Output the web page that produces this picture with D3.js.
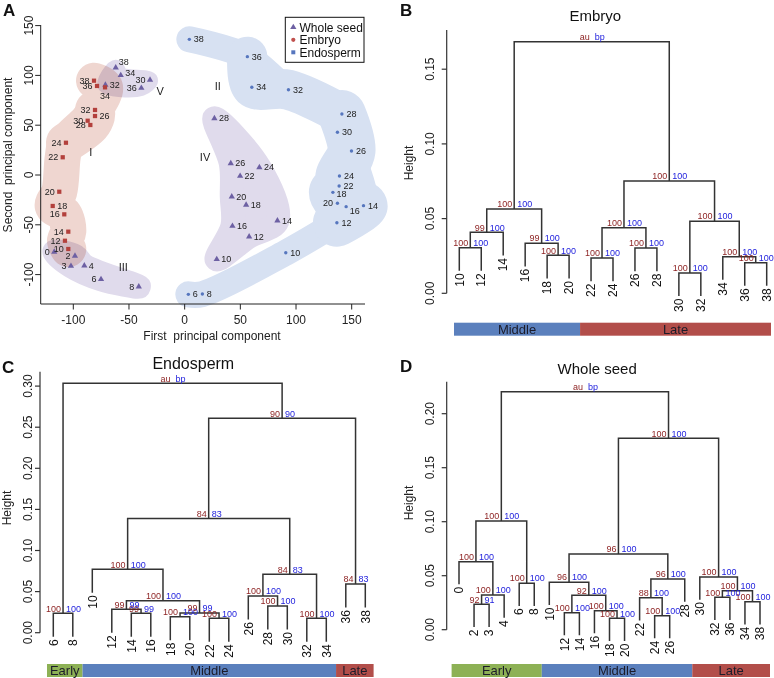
<!DOCTYPE html>
<html>
<head>
<meta charset="utf-8">
<script src="https://cdn.jsdelivr.net/npm/d3@7/dist/d3.min.js"></script>
<style>
html,body{margin:0;padding:0;background:#fff;}
svg{display:block;}
text{font-family:Arial,"Liberation Sans",Helvetica,sans-serif;}
</style>
</head>
<body>
<svg id="fig" width="774" height="678"></svg>
<script>
// ================= DATA =================
// ---- Panel A: PCA scores ----
const embryoLabels=["10","12","14","16","18","20","22","24","26","28","30","32","34","36","38"];
const embryoPC1=[-104.5,-107.5,-104.5,-108.1,-118.5,-112.6,-109.5,-106.6,-80.5,-84.7,-87.1,-80.5,-71.5,-78.7,-81.4];
const embryoPC2=[-74.3,-66,-56.9,-39.5,-31.1,-16.8,17.8,32.4,59.2,50.2,54.5,65.3,88,89.4,94.7];

const wholeLabels=["0","2","3","4","6","8","10","12","14","16","18","20","22","24","26","28","30","32","34","36","38"];
const wholePC1=[-117.1,-98.5,-102.1,-90.1,-75.1,-41.2,28.8,57.9,83.3,42.9,55.2,42.3,49.8,67.1,41.4,26.7,-31.1,-71.2,-57.4,-38.9,-61.9];
const wholePC2=[-77.3,-81.3,-91.4,-91.1,-104.7,-112.1,-84.6,-61.9,-45.9,-51.2,-30.1,-21.8,-1,7.7,11.7,56.9,95.4,90.4,100.1,87.3,107.7];

const endoLabels=["6","8","10","12","14","16","18","20","22","24","26","28","30","32","34","36","38"];
const endoPC1=[3.3,15.9,90.8,136.7,160.6,145,133.1,137.2,138.7,139,149.8,141.2,137.2,93.2,60.3,56.3,4.2];
const endoPC2=[-119.8,-119.5,-78,-47.9,-30.8,-31.8,-17.4,-28.4,-11,-1,24.1,61.2,42.9,85.6,88.1,118.8,136.2];

const pcaTicks=[-100,-50,0,50,100,150];
const clusterNames=["I","II","III","IV","V"];
const clusterPC1=[-84.4,29.7,-55.1,18.3,-22.1];
const clusterPC2=[23.4,89.4,-92.1,17.6,84.6];

// ---- Panel B: Embryo dendrogram ----  [left, right, height, au, bp]
const embryoLeaves=["10","12","14","16","18","20","22","24","26","28","30","32","34","36","38"];
const embryoMerges=[
  ["30","32",0.0136,100,100],
  ["36","38",0.0205,100,100],
  ["22","24",0.0236,100,100],
  ["34",1,0.0245,100,100],
  ["18","20",0.0254,100,100],
  ["26","28",0.0303,100,100],
  ["10","12",0.0305,100,100],
  ["16",4,0.0335,99,100],
  [6,"14",0.0408,99,100],
  [2,5,0.0439,100,100],
  [0,3,0.0482,100,100],
  [8,7,0.0564,100,100],
  [9,10,0.0752,100,100],
  [11,12,0.1684,"au","bp"]
];
const embryoStages=["Middle","Late"];
const embryoStageCounts=[6,9];
const embryoTicks=[0,0.05,0.10,0.15];

// ---- Panel C: Endosperm dendrogram ----
const endoLeaves=["6","8","10","12","14","16","18","20","22","24","26","28","30","32","34","36","38"];
const endoMerges=[
  ["32","34",0.0175,100,100],
  ["22","24",0.0175,100,100],
  ["18","20",0.0195,100,100],
  ["14","16",0.0236,99,99],
  ["6","8",0.0236,100,100],
  [2,1,0.0240,99,99],
  ["12",3,0.0284,99,99],
  ["28","30",0.0325,100,100],
  [6,5,0.0389,100,100],
  ["26",7,0.0445,100,100],
  ["36","38",0.0592,84,83],
  [9,0,0.0710,84,83],
  ["10",8,0.0771,100,100],
  [12,11,0.139,84,83],
  [13,10,0.2608,90,90],
  [4,14,0.3034,"au","bp"]
];
const endoStages=["Early","Middle","Late"];
const endoStageCounts=[2,13,2];
const endoTicks=[0,0.05,0.10,0.15,0.20,0.25,0.30];

// ---- Panel D: Whole seed dendrogram ----
const wholeLeaves=["0","2","3","4","6","8","10","12","14","16","18","20","22","24","26","28","30","32","36","34","38"];
const wholeMerges=[
  ["18","20",0.0105,100,100],
  ["24","26",0.0130,100,100],
  ["12","14",0.0158,100,100],
  ["16",0,0.0176,100,100],
  ["2","3",0.0235,92,91],
  ["34","38",0.0259,100,100],
  ["22",1,0.0296,88,100],
  ["32","36",0.0300,100,100],
  [2,3,0.0318,92,100],
  [4,"4",0.0321,100,100],
  [7,5,0.0361,100,100],
  ["6","8",0.0430,100,100],
  ["10",8,0.0439,96,100],
  [6,"28",0.0469,96,100],
  ["30",10,0.0488,100,100],
  ["0",9,0.0630,100,100],
  [12,13,0.0701,96,100],
  [15,11,0.1006,100,100],
  [16,14,0.1772,100,100],
  [17,18,0.2204,"au","bp"]
];
const wholeStages=["Early","Middle","Late"];
const wholeStageCounts=[6,10,5];
const wholeTicks=[0,0.05,0.10,0.15,0.20];

// ================= STYLE =================
const cRed="#b3403c", cPurple="#6d60a3", cBlue="#5676be";
const hullPink="#efd6d0", hullPurple="#e0dbec", hullBlue="#d7e1f2";
const auCol="#8b1f1f", bpCol="#2323dd";
const stageColor={Early:"#8db155",Middle:"#5b80bd",Late:"#b24e4a"};
const lineCol="#333";

const svg=d3.select("#fig");

// ================= PANEL A =================
(function(){
  const g=svg.append("g");
  const x=d3.scaleLinear().domain([-100,150]).range([73.3,351.7]);
  const y=d3.scaleLinear().domain([-100,150]).range([274.6,25.6]);
  const series={
    "Whole seed":{labels:wholeLabels,pc1:wholePC1,pc2:wholePC2,sym:d3.symbolTriangle,size:17,color:cPurple,hull:hullPurple,
      side:{"0":"l","2":"l","3":"l","6":"l","8":"l","30":"l","36":"l","38":"ru","34":"ru2"},def:"r"},
    "Embryo":{labels:embryoLabels,pc1:embryoPC1,pc2:embryoPC2,sym:d3.symbolSquare,size:18,color:cRed,hull:hullPink,
      side:{"26":"r","18":"r","34":"b"},def:"l"},
    "Endosperm":{labels:endoLabels,pc1:endoPC1,pc2:endoPC2,sym:d3.symbolCircle,size:9,color:cBlue,hull:hullBlue,
      side:{"20":"l","16":"rd","18":"rd2"},def:"r"}
  };
  function pt(s,lab){const S=series[s];const i=S.labels.indexOf(lab);return [x(S.pc1[i]),y(S.pc2[i])];}

  const hulls=[
    {s:"Embryo",members:["10","12","14","16","18","20","22","24","30","32","34","38"],width:36,mode:"open"},
    {s:"Embryo",members:["24","28","26","32"],width:40,mode:"open"},
    {s:"Whole seed",members:["0","2","4","8","6","3"],width:24,mode:"closed"},
    {s:"Whole seed",members:["28","26","20","16","10","12","14","24"],width:24,mode:"closed"},
    {s:"Whole seed",members:["32","38","34","30","36"],width:16,mode:"closed"},
    {s:"Endosperm",members:["6","8","10","12","14","26","28","32","36","38"],width:26,mode:"open"},
    {s:"Endosperm",members:["12","14","16","18","22","24","26","28"],width:48,mode:"open"},
    {s:"Endosperm",members:["28","32","34","36"],width:40,mode:"open"}
  ];
  const fam={};
  ["Embryo","Whole seed","Endosperm"].forEach(s=>{fam[s]=g.append("g").style("mix-blend-mode","multiply");});
  hulls.forEach(h=>{
    const pts=h.members.map(m=>pt(h.s,m));
    const col=series[h.s].hull;
    const line=d3.line().curve(h.mode==="closed"?d3.curveCatmullRomClosed:d3.curveCatmullRom.alpha(0.5));
    fam[h.s].append("path").attr("d",line(pts))
      .attr("fill",h.mode==="closed"?col:"none").attr("stroke",col)
      .attr("stroke-width",h.width).attr("stroke-linecap","round").attr("stroke-linejoin","round");
  });

  // frame (L box)
  const fx0=40.7, fy1=304, fx1=365, fy0=25;
  g.append("path").attr("d",`M${fx0},${fy0}V${fy1}H${fx1}`).attr("fill","none").attr("stroke","#222").attr("stroke-width",1);
  pcaTicks.forEach(t=>{
    g.append("line").attr("x1",fx0-5.5).attr("x2",fx0).attr("y1",y(t)).attr("y2",y(t)).attr("stroke","#222");
    g.append("text").attr("transform",`translate(33.3,${y(t)}) rotate(-90)`).attr("text-anchor","middle")
      .attr("font-size",12).attr("fill","#222").text(t);
    g.append("line").attr("x1",x(t)).attr("x2",x(t)).attr("y1",fy1).attr("y2",fy1+5.5).attr("stroke","#222");
    g.append("text").attr("x",x(t)).attr("y",323.5).attr("text-anchor","middle").attr("font-size",12).attr("fill","#222").text(t);
  });
  g.append("text").attr("x",212).attr("y",339.5).attr("text-anchor","middle").attr("font-size",12)
    .style("white-space","pre").attr("fill","#222").text("First  principal component");
  g.append("text").attr("transform","translate(11.5,155) rotate(-90)").attr("text-anchor","middle").attr("font-size",12)
    .style("white-space","pre").attr("fill","#222").text("Second  principal component");

  // cluster numerals
  clusterNames.forEach((n,i)=>{
    g.append("text").attr("x",x(clusterPC1[i])).attr("y",y(clusterPC2[i])).attr("dy","0.35em")
      .attr("text-anchor","middle").attr("font-size",11).attr("fill","#222").text(n);
  });

  // points + labels
  const off={l:[-4.5,0,"end"],r:[4.5,0,"start"],b:[0,8.5,"middle"],ru:[3,-6,"start"],ru2:[4.5,-2.5,"start"],rd:[3.5,4.5,"start"],rd2:[3.5,2,"start"]};
  Object.keys(series).forEach(s=>{
    const S=series[s];
    S.labels.forEach((lab,i)=>{
      const px=x(S.pc1[i]), py=y(S.pc2[i]);
      g.append("path").attr("d",d3.symbol().type(S.sym).size(S.size)()).attr("transform",`translate(${px},${py})`).attr("fill",S.color);
      const o=off[S.side[lab]||S.def];
      g.append("text").attr("x",px+o[0]).attr("y",py+o[1]).attr("dy","0.35em").attr("text-anchor",o[2])
        .attr("font-size",9).attr("fill","#222").text(lab);
    });
  });

  // legend
  const lg=g.append("g");
  lg.append("rect").attr("x",285.3).attr("y",17.3).attr("width",78.7).attr("height",45).attr("fill","#fff").attr("stroke","#111").attr("stroke-width",1);
  const legItems=[["Whole seed",d3.symbolTriangle,cPurple,17],["Embryo",d3.symbolCircle,"#c0504d",14],["Endosperm",d3.symbolSquare,cBlue,16]];
  legItems.forEach((it,i)=>{
    const ly=27.3+i*12.5;
    lg.append("path").attr("d",d3.symbol().type(it[1]).size(it[3])()).attr("transform",`translate(293.3,${ly})`).attr("fill",it[2]);
    lg.append("text").attr("x",299.5).attr("y",ly).attr("dy","0.35em").attr("font-size",12).attr("fill","#111").text(it[0]);
  });

  svg.append("text").attr("x",3).attr("y",16).attr("font-size",17).attr("font-weight","bold").attr("fill","#111").text("A");
})();

// ================= DENDROGRAMS =================
function dendro(p){
  const g=svg.append("g");
  const y=d3.scaleLinear().domain([0,1]).range([p.y0,p.y0-p.k]);
  const x=d3.scalePoint().domain(p.leaves).range(p.xr);
  const hs=p.merges.map(m=>m[2]);
  const hang=0.1*(d3.max(hs)-d3.min(hs));
  const nx=[];
  const lines=g.append("g").attr("fill","none").attr("stroke",lineCol).attr("stroke-width",1.5);
  const labs=g.append("g");
  p.merges.forEach((m,i)=>{
    const h=m[2];
    const ends=[m[0],m[1]].map(r=>typeof r==="string"?{x:x(r),y:y(h-hang),leaf:r}:{x:nx[r],y:y(hs[r])});
    nx[i]=(ends[0].x+ends[1].x)/2;
    lines.append("path").attr("d",`M${ends[0].x},${ends[0].y}V${y(h)}H${ends[1].x}V${ends[1].y}`);
    ends.filter(e=>e.leaf).forEach(e=>{
      labs.append("text").attr("transform",`translate(${e.x},${e.y+2.5}) rotate(-90)`).attr("text-anchor","end")
        .attr("dy","0.35em").attr("font-size",12).attr("fill","#111").text(e.leaf);
    });
    labs.append("text").attr("x",nx[i]-2).attr("y",y(h)-1.8).attr("text-anchor","end").attr("font-size",9).attr("fill",auCol).text(m[3]);
    labs.append("text").attr("x",nx[i]+3).attr("y",y(h)-1.8).attr("font-size",9).attr("fill",bpCol).text(m[4]);
  });
  // axis
  g.append("line").attr("x1",p.ax).attr("x2",p.ax).attr("y1",y(0)).attr("y2",p.axTop).attr("stroke",lineCol).attr("stroke-width",1.2);
  p.ticks.forEach(t=>{
    g.append("line").attr("x1",p.ax-5).attr("x2",p.ax).attr("y1",y(t)).attr("y2",y(t)).attr("stroke",lineCol).attr("stroke-width",1.2);
    g.append("text").attr("transform",`translate(${p.tlx},${y(t)}) rotate(-90)`).attr("text-anchor","middle")
      .attr("font-size",12).attr("fill","#222").text(d3.format(".2f")(t));
  });
  g.append("text").attr("transform",`translate(${p.hx},${p.hy}) rotate(-90)`).attr("text-anchor","middle")
    .attr("font-size",12).attr("fill","#222").text("Height");
  g.append("text").attr("x",p.tx).attr("y",p.ty).attr("text-anchor","middle").attr("font-size",p.tfs).attr("fill","#111").text(p.title);
  g.append("text").attr("x",p.px).attr("y",p.py).attr("font-size",17).attr("font-weight","bold").attr("fill","#111").text(p.panel);
  // stage bar
  let idx=0; let left=p.bar[0];
  p.stages.forEach((s,i)=>{
    idx+=p.counts[i];
    const right=i===p.stages.length-1?p.bar[1]:(x(p.leaves[idx-1])+x(p.leaves[idx]))/2;
    g.append("rect").attr("x",left).attr("y",p.barY).attr("width",right-left).attr("height",13).attr("fill",stageColor[s]);
    g.append("text").attr("x",(left+right)/2).attr("y",p.barY+11.2).attr("text-anchor","middle").attr("font-size",13).attr("fill","#1c1c2a").text(s);
    left=right;
  });
}

dendro({leaves:embryoLeaves,merges:embryoMerges,xr:[459.3,766.7],y0:293.3,k:1494,ax:446.7,axTop:30,ticks:embryoTicks,tlx:434,
  hx:413,hy:163,title:"Embryo",tx:595.3,ty:21,tfs:15,panel:"B",px:400,py:15.5,stages:embryoStages,counts:embryoStageCounts,
  bar:[454,771],barY:322.7});
dendro({leaves:endoLeaves,merges:endoMerges,xr:[53.3,365.3],y0:632.7,k:822,ax:40,axTop:371.7,ticks:endoTicks,tlx:31.7,
  hx:10.5,hy:508,title:"Endosperm",tx:193.3,ty:369,tfs:16,panel:"C",px:2,py:373,stages:endoStages,counts:endoStageCounts,
  bar:[47,373.6],barY:664});
dendro({leaves:wholeLeaves,merges:wholeMerges,xr:[459,760],y0:629.7,k:1080,ax:446.7,axTop:381.7,ticks:wholeTicks,tlx:434,
  hx:413,hy:503,title:"Whole seed",tx:597.2,ty:374,tfs:15,panel:"D",px:400,py:372,stages:wholeStages,counts:wholeStageCounts,
  bar:[451.6,770],barY:664});
</script>
</body>
</html>
